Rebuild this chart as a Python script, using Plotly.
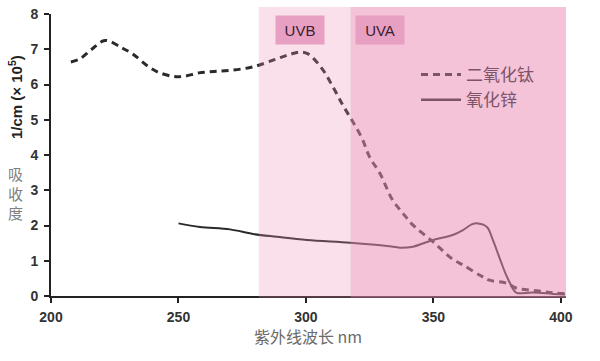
import plotly.graph_objects as go

# TiO2 (二氧化钛) absorbance, dashed
tio2_x = [207.8, 211.4, 216, 221.2, 228, 232, 237.6, 242, 248, 252, 258, 264, 270.2, 279.2, 288.6, 294, 297.6, 300.8,
          306.3, 310.6, 314.5, 318, 322, 325, 329, 334, 338, 342, 349.8, 357.6, 361.6, 368.2, 372, 378.8, 382.7,
          390.6, 396.9, 402]
tio2_y = [6.64, 6.73, 7.0, 7.25, 7.03, 6.87, 6.54, 6.35, 6.23, 6.23, 6.33, 6.37, 6.40, 6.50, 6.73, 6.86, 6.92, 6.87,
          6.45, 5.93, 5.41, 4.99, 4.47, 3.94, 3.48, 2.72, 2.35, 2.01, 1.54, 1.04, 0.88, 0.59, 0.45, 0.36, 0.22,
          0.15, 0.09, 0.07]

# ZnO (氧化锌) absorbance, solid
zno_x = [250, 258.4, 270.2, 279.2, 288.6, 300.4, 317.3, 331.8, 336.9, 342, 349.8, 357.6, 361.6, 365, 367.5, 371,
         373.3, 376, 378.8, 382, 383.1, 389, 396.9, 401.6]
zno_y = [2.06, 1.96, 1.89, 1.76, 1.68, 1.59, 1.51, 1.42, 1.37, 1.40, 1.59, 1.73, 1.87, 2.03, 2.06, 1.96,
         1.59, 1.07, 0.55, 0.12, 0.08, 0.10, 0.06, 0.04]

# UV bands
band_names = ["UVB", "UVA"]
band_start = [281.5, 317.5]
band_end = [317.5, 402]
band_label_x = [297.6, 329.2]
band_label_y = [7.56, 7.56]
band_alpha = [0.27, 0.52]

series_names = ["二氧化钛", "氧化锌"]

x_ticks = [200, 250, 300, 350, 400]
y_ticks = [0, 1, 2, 3, 4, 5, 6, 7, 8]

LINE = "#2a2a2a"
LEG = "#7d5468"

L, R, T, B = 51, 34, 14, 65
PW, PH = 600 - L - R, 361 - T - B


def px(xp):
    return (xp - L) / PW


def py(yp):
    return (361 - B - yp) / PH


fig = go.Figure()
fig.add_trace(go.Scatter(x=tio2_x, y=tio2_y, mode="lines", line=dict(color=LINE, width=3, dash="7px,5px"),
                         line_shape="spline", showlegend=False))
fig.add_trace(go.Scatter(x=zno_x, y=zno_y, mode="lines", line=dict(color=LINE, width=2),
                         line_shape="spline", showlegend=False))
# legend entries (tinted like the overlay)
fig.add_trace(go.Scatter(x=[None], y=[None], mode="lines", name=series_names[0],
                         line=dict(color=LEG, width=3, dash="7px,5px")))
fig.add_trace(go.Scatter(x=[None], y=[None], mode="lines", name=series_names[1],
                         line=dict(color=LEG, width=2.5)))

shapes = []
for s, e, a in zip(band_start, band_end, band_alpha):
    shapes.append(dict(type="rect", xref="x", yref="paper", x0=s, x1=e, y0=-0.006, y1=1.025,
                       fillcolor=f"rgba(236,140,180,{a})", line=dict(width=0), layer="above"))

for n, lx, ly in zip(band_names, band_label_x, band_label_y):
    fig.add_annotation(x=lx, y=ly, xref="x", yref="y", text=n, showarrow=False,
                       xanchor="center", yanchor="middle",
                       font=dict(family="Liberation Sans, Arial", size=15, color="#3a2030"),
                       bgcolor="#e8a0c2", width=46, height=26, borderpad=1)

fig.add_annotation(x=px(15), xref="paper", y=py(97), yref="paper", xanchor="center", yanchor="middle",
                   text="<b>1/cm (× 10<sup>5</sup>)</b>", textangle=-90, showarrow=False,
                   font=dict(family="Liberation Sans, Arial", size=15, color="#222"))
fig.add_annotation(x=px(15), xref="paper", y=py(193), yref="paper", xanchor="center", yanchor="middle",
                   text="吸<br>收<br>度", showarrow=False,
                   font=dict(family="Noto Sans CJK SC", size=15, color="#808080"))
fig.add_annotation(x=px(308), xref="paper", y=py(336), yref="paper", xanchor="center", yanchor="middle",
                   text="紫外线波长 nm", showarrow=False,
                   font=dict(family="Noto Sans CJK SC", size=16, color="#6a6a6a"))

fig.update_layout(
    width=600, height=361,
    margin=dict(l=L, r=R, t=T, b=B, autoexpand=False),
    paper_bgcolor="white", plot_bgcolor="white",
    shapes=shapes,
    showlegend=True,
    legend=dict(x=px(416), y=py(57), xanchor="left", yanchor="top",
                bgcolor="rgba(0,0,0,0)", font=dict(family="Noto Sans CJK SC", size=17, color=LEG),
                itemwidth=40, tracegroupgap=0),
    xaxis=dict(range=[200, 402], tickvals=x_ticks, showgrid=False, zeroline=False, automargin=False,
               showline=True, linecolor="#222", linewidth=2, ticks="outside", ticklen=5, tickwidth=2,
               tickcolor="#222", ticklabelstandoff=2,
               tickfont=dict(family="Liberation Sans, Arial", size=14, color="#333", weight="bold")),
    yaxis=dict(range=[0, 8], tickvals=y_ticks, showgrid=False, zeroline=False, automargin=False,
               showline=True, linecolor="#222", linewidth=2, ticks="outside", ticklen=5, tickwidth=2,
               tickcolor="#222", ticklabelstandoff=3,
               tickfont=dict(family="Liberation Sans, Arial", size=14, color="#333", weight="bold")),
)

fig.write_html("out.html", config={"displayModeBar": False},
               post_script="document.body.style.margin='0';")
